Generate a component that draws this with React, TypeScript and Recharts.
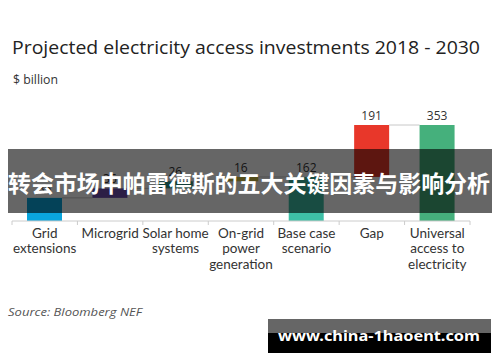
import React from "react";
import { BarChart, Bar, XAxis, YAxis, LabelList } from "recharts";

const categories = [
  "Grid extensions",
  "Microgrid",
  "Solar home systems",
  "On-grid power generation",
  "Base case scenario",
  "Gap",
  "Universal access to electricity",
];
const tickLines = [
  ["Grid", "extensions"],
  ["Microgrid"],
  ["Solar home", "systems"],
  ["On-grid", "power", "generation"],
  ["Base case", "scenario"],
  ["Gap"],
  ["Universal", "access to", "electricity"],
];
const values = [85, 35, 26, 16, 162, 191, 353];
const isTotal = [false, false, false, false, true, false, true];
const colors = ["#0aa5dd", "#6e4fae", "#2f9e8c", "#d4c248", "#3ebfa6", "#e8372a", "#45b07c"];

const bases: number[] = [];
{
  let run = 0;
  values.forEach((v, i) => {
    if (isTotal[i]) {
      bases.push(0);
      run = v;
    } else {
      bases.push(run);
      run += v;
    }
  });
}

const data = categories.map((name, i) => ({ name, base: bases[i], value: values[i] }));

const W = 500;
const H = 362;
const M = { top: 125, right: 30, bottom: 81, left: 12 };
const STEP = (W - M.left - M.right) / categories.length;

const FONT = "'Open Sans', 'Noto Sans', sans-serif";
const TICK_FONT = "Lato, 'Open Sans', sans-serif";

const WaterfallShape = (props: any) => {
  const { x, y, width, height, index } = props;
  const gap = STEP - width;
  return (
    <g>
      <rect x={x} y={y} width={width} height={height} fill={colors[index]} />
      {index < categories.length - 1 && (
        <line x1={x + width} x2={x + width + gap} y1={y} y2={y} stroke="#c8c8c8" strokeWidth={1} />
      )}
    </g>
  );
};

const Tick = (props: any) => {
  const { x, y, index } = props;
  const lines = tickLines[index] || [];
  return (
    <g>
      <line x1={x - STEP / 2} x2={x - STEP / 2} y1={y} y2={y + 4} stroke="#ccc" />
      {index === categories.length - 1 && (
        <line x1={x + STEP / 2} x2={x + STEP / 2} y1={y} y2={y + 4} stroke="#ccc" />
      )}
      <text x={x} y={y} textAnchor="middle" fontSize={13.5} fill="#333" fontFamily={TICK_FONT}>
        {lines.map((l, i) => (
          <tspan key={i} x={x} dy={i === 0 ? 16.5 : 15.5}>
            {l}
          </tspan>
        ))}
      </text>
    </g>
  );
};

export default function App() {
  return (
    <div style={{ position: "absolute", left: 0, top: 0, width: W, height: H, background: "#fff" }}>
      <BarChart width={W} height={H} data={data} margin={M} barSize={35}>
        <XAxis
          dataKey="name"
          interval={0}
          height={60}
          axisLine={{ stroke: "#ccc" }}
          tickLine={false}
          tickSize={0}
          tickMargin={0}
          tick={<Tick />}
        />
        <YAxis hide domain={[0, 353]} />
        <Bar dataKey="base" stackId="w" fill="transparent" isAnimationActive={false} />
        <Bar dataKey="value" stackId="w" isAnimationActive={false} shape={<WaterfallShape />}>
          <LabelList dataKey="value" position="top" offset={5} fill="#333" fontSize={12} fontFamily={FONT} />
        </Bar>
      </BarChart>
      <svg
        width={W}
        height={H}
        style={{ position: "absolute", left: 0, top: 0, pointerEvents: "none" }}
      >
        <text x={12} y={54} fontSize={19} fill="#222" fontFamily={FONT} textLength={468} lengthAdjust="spacingAndGlyphs">
          Projected electricity access investments 2018 - 2030
        </text>
        <text x={13} y={84} fontSize={12.5} fill="#333" fontFamily={FONT} textLength={45} lengthAdjust="spacingAndGlyphs">
          $ billion
        </text>
        <text x={8} y={316} fontSize={11.5} fontStyle="italic" fill="#555" fontFamily={FONT} textLength={134} lengthAdjust="spacingAndGlyphs">
          Source: Bloomberg NEF
        </text>
        <rect x={8} y={149} width={484} height={64} fill="rgba(0,0,0,0.6)" />
        <text
          x={8}
          y={192}
          fontSize={23}
          fontWeight="bold"
          fill="#fff"
          fontFamily="'Noto Sans CJK SC', sans-serif"
          textLength={482}
          lengthAdjust="spacingAndGlyphs"
        >
          转会市场中帕雷德斯的五大关键因素与影响分析
        </text>
        <rect x={268} y={319} width={223} height={14} fill="#666" />
        <rect x={268} y={333} width={223} height={20} fill="#000" />
        <text
          x={278}
          y={341}
          fontSize={15}
          fontWeight="bold"
          fill="#fff"
          fontFamily="'Noto Sans', sans-serif"
          textLength={202}
          lengthAdjust="spacingAndGlyphs"
        >
          www.china-1haoent.com
        </text>
      </svg>
    </div>
  );
}
